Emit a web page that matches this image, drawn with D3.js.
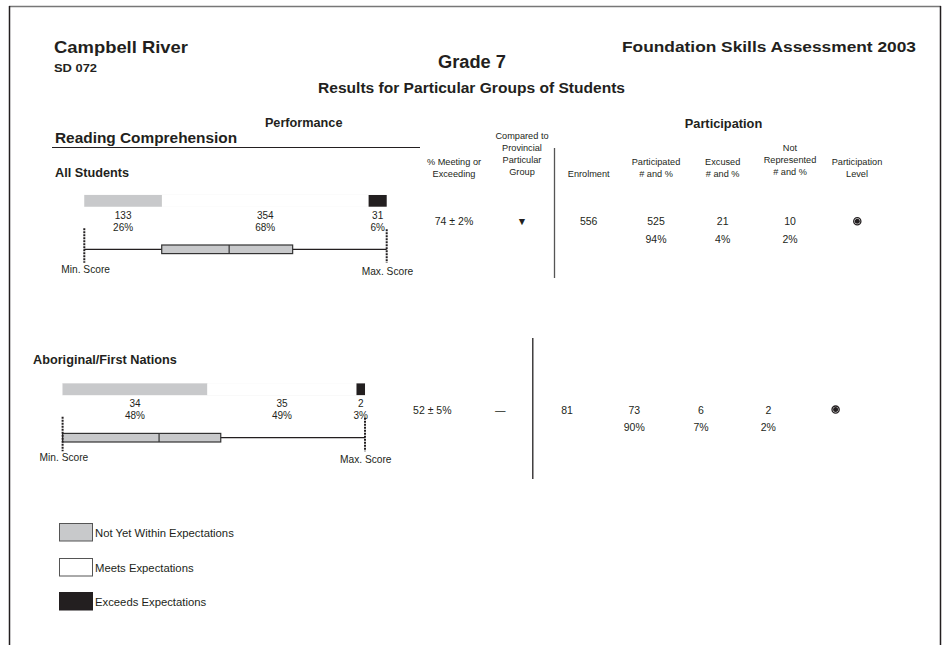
<!DOCTYPE html>
<html>
<head>
<meta charset="utf-8">
<script src="https://cdn.jsdelivr.net/npm/d3@7"></script>
<style>
  html, body { margin: 0; padding: 0; background: #fff; }
  svg { display: block; font-family: "Liberation Sans", Arial, Helvetica, sans-serif; }
</style>
</head>
<body>
<svg id="chart" width="943" height="645"></svg>
<script>
// ---------------- DATA ----------------
const groups = ["All Students", "Aboriginal/First Nations"];
const levelNames = ["Not Yet Within Expectations", "Meets Expectations", "Exceeds Expectations"];
const levelCounts = [[133, 354, 31], [34, 35, 2]];
const levelPcts = [["26%", "68%", "6%"], ["48%", "49%", "3%"]];
// box plot on a 0–100 score range (min, q1, median, q3, max)
const boxStats = [[0, 25.6, 47.9, 68.9, 100], [0, 0, 31.9, 52.3, 100]];
const meetingPct = ["74 ± 2%", "52 ± 5%"];
const comparedSymbol = ["▼", "—"];
const enrolment = [556, 81];
const participated = [525, 73];
const participatedPct = ["94%", "90%"];
const excused = [21, 6];
const excusedPct = ["4%", "7%"];
const notRepresented = [10, 2];
const notRepresentedPct = ["2%", "2%"];
const participationLevel = ["full", "full"];

// ---------------- STYLE ----------------
const colors = ["#c8c9cb", "#ffffff", "#231f20"];
const ink = "#231f20";

const svg = d3.select("#chart");

// page frame
svg.append("line").attr("x1", 9).attr("x2", 941).attr("y1", 6.5).attr("y2", 6.5)
  .attr("stroke", "#777").attr("stroke-width", 1.5);
svg.append("line").attr("x1", 9.5).attr("x2", 9.5).attr("y1", 6).attr("y2", 645)
  .attr("stroke", ink).attr("stroke-width", 1.5);
svg.append("line").attr("x1", 940.5).attr("x2", 940.5).attr("y1", 6).attr("y2", 645)
  .attr("stroke", ink).attr("stroke-width", 1.5);

function txt(x, y, s, size, opts = {}) {
  const t = svg.append("text").attr("x", x).attr("y", y)
    .attr("font-size", size)
    .attr("font-weight", opts.bold ? "bold" : "normal")
    .attr("text-anchor", opts.anchor || "start")
    .attr("fill", opts.fill || ink)
    .text(s);
  if (opts.len) t.attr("textLength", opts.len).attr("lengthAdjust", "spacingAndGlyphs");
  return t;
}

// header
txt(54, 53, "Campbell River", 17, {bold: true, len: 134});
txt(54, 72, "SD 072", 11.5, {bold: true, len: 43});
txt(472, 68, "Grade 7", 17.5, {bold: true, anchor: "middle", len: 68});
txt(916, 52, "Foundation Skills Assessment 2003", 14.5, {bold: true, anchor: "end", len: 294});
txt(471.5, 93, "Results for Particular Groups of Students", 14, {bold: true, anchor: "middle", len: 307});

txt(303.7, 127, "Performance", 12.7, {bold: true, anchor: "middle"});
txt(55, 142.7, "Reading Comprehension", 15.4, {bold: true});
svg.append("line").attr("x1", 52).attr("x2", 420).attr("y1", 147.5).attr("y2", 147.5)
  .attr("stroke", ink).attr("stroke-width", 1);
txt(723.5, 128, "Participation", 12.8, {bold: true, anchor: "middle"});

// column headers
function multiline(x, yBottom, lines, size) {
  const lh = 12;
  lines.forEach((l, i) => {
    txt(x, yBottom - (lines.length - 1 - i) * lh, l, size, {anchor: "middle"});
  });
}
const hs = 9.2;
multiline(454, 176.5, ["% Meeting or", "Exceeding"], hs);
multiline(522, 175.3, ["Compared to", "Provincial", "Particular", "Group"], hs);
multiline(588.7, 177, ["Enrolment"], hs);
multiline(656, 177, ["Participated", "# and %"], hs);
multiline(722.7, 177, ["Excused", "# and %"], hs);
multiline(790, 175, ["Not", "Represented", "# and %"], hs);
multiline(857, 177, ["Participation", "Level"], hs);

// ---------------- GROUP SECTIONS ----------------
const sectionOffsets = [{dx: 0, dy: 0}, {dx: -21.7, dy: 188.4}];
const barX0 = 84.3, barW = 302.4;

groups.forEach((g, gi) => {
  const {dx, dy} = sectionOffsets[gi];
  const gx = gi === 0 ? 55 : 33;
  txt(gx, 176.7 + dy - (gi === 1 ? 0.8 : 0), g, 12.7, {bold: true});

  // stacked distribution bar
  const total = d3.sum(levelCounts[gi]);
  const xs = d3.scaleLinear().domain([0, total]).range([barX0 + dx, barX0 + dx + barW]);
  const stackData = [];
  let acc = 0;
  levelCounts[gi].forEach((c, i) => { stackData.push({c, i, start: acc, end: acc + c}); acc += c; });
  svg.append("rect").attr("x", xs(0)).attr("y", 195 + dy).attr("width", barW).attr("height", 11.7)
    .attr("fill", "none").attr("stroke", "#eee").attr("stroke-width", 0.5);
  svg.append("g").selectAll("rect").data(stackData).join("rect")
    .attr("x", d => xs(d.start)).attr("width", d => xs(d.end) - xs(d.start))
    .attr("y", 195 + dy).attr("height", 11.7)
    .attr("fill", d => colors[d.i]);
  stackData.forEach(d => {
    const cx = (xs(d.start) + xs(d.end)) / 2;
    txt(cx, 219 + dy, d.c, 10, {anchor: "middle"});
    txt(cx, 230.5 + dy, levelPcts[gi][d.i], 10, {anchor: "middle"});
  });

  // box plot
  const bs = d3.scaleLinear().domain([0, 100]).range([barX0 + dx, barX0 + dx + barW]);
  const [mn, q1, med, q3, mx] = boxStats[gi];
  const wy = 249.3 + dy;
  svg.append("line").attr("x1", bs(mn)).attr("x2", bs(mx)).attr("y1", wy).attr("y2", wy)
    .attr("stroke", ink).attr("stroke-width", 1.2);
  svg.append("rect").attr("x", bs(q1)).attr("width", bs(q3) - bs(q1))
    .attr("y", wy - 4.3).attr("height", 8.6)
    .attr("fill", "#c8c9cb").attr("stroke", "#333").attr("stroke-width", 1.2);
  svg.append("line").attr("x1", bs(med)).attr("x2", bs(med)).attr("y1", wy - 4.3).attr("y2", wy + 4.3)
    .attr("stroke", "#333").attr("stroke-width", 1.2);
  [mn, mx].forEach((v, k) => {
    svg.append("line").attr("x1", bs(v)).attr("x2", bs(v))
      .attr("y1", wy - (k === 0 ? 21 : 20)).attr("y2", wy + 13.5)
      .attr("stroke", ink).attr("stroke-width", 2).attr("stroke-dasharray", "2,1");
  });
  txt(bs(mn) - 23, wy + 23.2, "Min. Score", 10.2);
  txt(bs(mx) - 25, wy + 25.4, "Max. Score", 10.2);

  // numeric columns
  const vy = 225.4 + dy, vy2 = 242.8 + dy;
  const vs = 10.5;
  txt(454 + dx, vy, meetingPct[gi], vs, {anchor: "middle"});
  txt(522 + dx, vy, comparedSymbol[gi], vs, {anchor: "middle"});
  txt(588.7 + dx, vy, enrolment[gi], vs, {anchor: "middle"});
  txt(656 + dx, vy, participated[gi], vs, {anchor: "middle"});
  txt(656 + dx, vy2, participatedPct[gi], vs, {anchor: "middle"});
  txt(722.7 + dx, vy, excused[gi], vs, {anchor: "middle"});
  txt(722.7 + dx, vy2, excusedPct[gi], vs, {anchor: "middle"});
  txt(790 + dx, vy, notRepresented[gi], vs, {anchor: "middle"});
  txt(790 + dx, vy2, notRepresentedPct[gi], vs, {anchor: "middle"});
  if (participationLevel[gi] === "full") {
    svg.append("circle").attr("cx", 857.3 + dx).attr("cy", 221.2 + dy).attr("r", 3.6)
      .attr("fill", "#fff").attr("stroke", ink).attr("stroke-width", 1.3);
    svg.append("circle").attr("cx", 857.3 + dx).attr("cy", 221.2 + dy).attr("r", 2.5).attr("fill", ink);
  }

  // separator
  const sy1 = gi === 0 ? 148 : 338, sy2 = gi === 0 ? 278 : 479;
  svg.append("line").attr("x1", 554.5 + dx).attr("x2", 554.5 + dx).attr("y1", sy1).attr("y2", sy2)
    .attr("stroke", gi === 0 ? "#555" : ink).attr("stroke-width", 1.3);
});

// ---------------- LEGEND ----------------
const legY = [523, 558, 592];
const leg = svg.append("g").selectAll("g").data(levelNames).join("g");
leg.append("rect").attr("x", 59.5).attr("y", (d, i) => legY[i] + 0.5).attr("width", 33).attr("height", 17.5)
  .attr("fill", (d, i) => colors[i]).attr("stroke", (d, i) => i === 2 ? ink : "#555").attr("stroke-width", 1);
leg.append("text").attr("x", 95).attr("y", (d, i) => legY[i] + 13.5)
  .attr("font-size", 11.3).attr("fill", ink).text(d => d);
</script>
</body>
</html>
